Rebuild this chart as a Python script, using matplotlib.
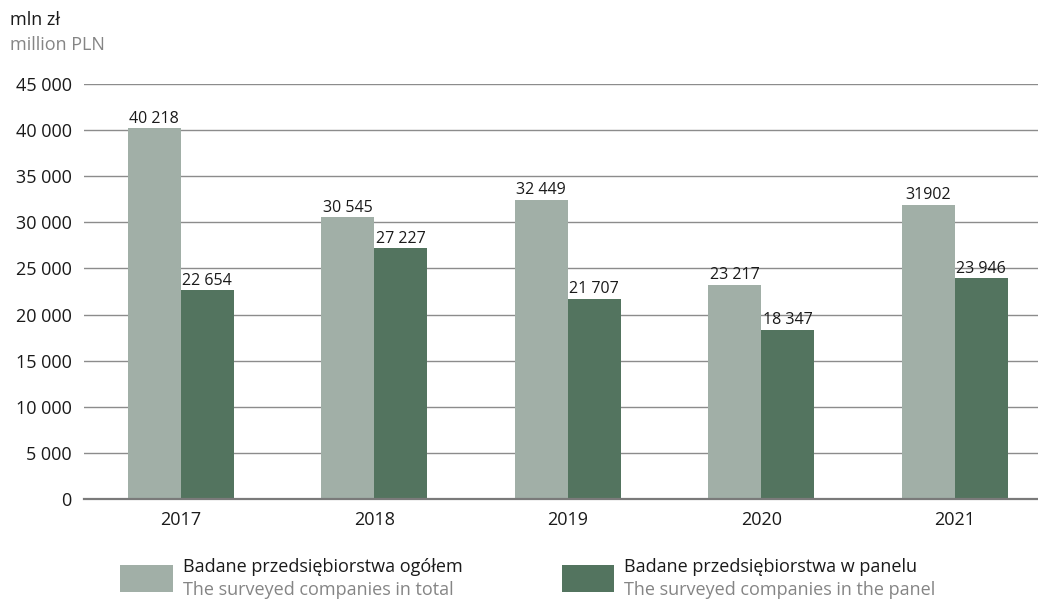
import matplotlib
matplotlib.use('Agg')
import matplotlib.pyplot as plt
from matplotlib.patches import Rectangle
from matplotlib.ticker import FuncFormatter
import numpy as np

plt.rcParams['font.family'] = ['Open Sans', 'DejaVu Sans']

# data
years = ['2017', '2018', '2019', '2020', '2021']
total = [40218, 30545, 32449, 23217, 31902]
panel = [22654, 27227, 21707, 18347, 23946]
total_labels = ['40 218', '30 545', '32 449', '23 217', '31902']  # as printed in source
panel_labels = ['22 654', '27 227', '21 707', '18 347', '23 946']

c_light = '#a1afa7'
c_dark = '#53745f'
grey_txt = '#858585'

def space_thousands(v, pos=None):
    return f'{int(v):,}'.replace(',', ' ')

fig = plt.figure(figsize=(10.38, 6.01), dpi=100)
ax = fig.add_axes([0.081, 0.170, 0.919, 0.690])

x = np.arange(len(years))
w = 0.274
b1 = ax.bar(x - w / 2, total, w, color=c_light, zorder=3)
b2 = ax.bar(x + w / 2, panel, w, color=c_dark, zorder=3)
ax.bar_label(b1, labels=total_labels, padding=1, fontsize=11.5, color='#1a1a1a')
ax.bar_label(b2, labels=panel_labels, padding=1, fontsize=11.5, color='#1a1a1a')

ax.set_ylim(0, 45000)
ax.set_xlim(-0.5, 4.43)
ax.set_yticks(np.arange(0, 45001, 5000))
ax.yaxis.set_major_formatter(FuncFormatter(space_thousands))
ax.set_xticks(x)
ax.set_xticklabels(years)
ax.tick_params(axis='both', length=0, labelsize=13, colors='#1a1a1a')
ax.tick_params(axis='y', pad=9)
ax.tick_params(axis='x', pad=9)
ax.grid(axis='y', color='#8c8c8c', linewidth=1, zorder=0)
ax.axhline(0, color='#7a7a7a', linewidth=1.6, zorder=4, clip_on=False)
for s in ax.spines.values():
    s.set_visible(False)

# unit header
fig.text(0.010, 0.966, 'mln zł', fontsize=13, color='#1a1a1a', ha='left', va='center')
fig.text(0.010, 0.925, 'million PLN', fontsize=13, color=grey_txt, ha='left', va='center')

# legend drawn by hand
legend_items = [
    (0.116, c_light, 'Badane przedsiębiorstwa ogółem', 'The surveyed companies in total'),
    (0.541, c_dark, 'Badane przedsiębiorstwa w panelu', 'The surveyed companies in the panel'),
]
for lx, col, pl, en in legend_items:
    fig.patches.append(Rectangle((lx, 0.015), 0.051, 0.045, transform=fig.transFigure,
                                 facecolor=col, edgecolor='none'))
    fig.text(lx + 0.060, 0.057, pl, fontsize=13, color='#1a1a1a', ha='left', va='center')
    fig.text(lx + 0.060, 0.019, en, fontsize=13, color=grey_txt, ha='left', va='center')

fig.savefig('out.png', dpi=100)
